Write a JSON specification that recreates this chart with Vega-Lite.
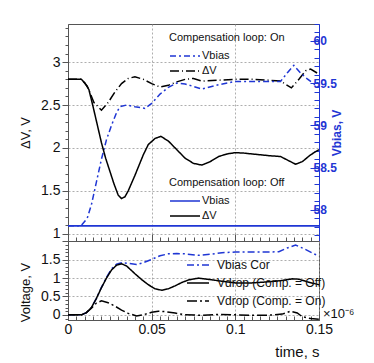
{
  "$schema": "https://vega.github.io/schema/vega-lite/v6.json",
  "autosize": {"type": "pad"},
  "padding": {"left": 19, "top": 17, "right": 0, "bottom": 0},
  "background": "white",
  "spacing": 0,
  "bounds": "flush",
  "config": {
    "font": "Liberation Sans",
    "view": {"stroke": "#555", "strokeWidth": 1},
    "axis": {
      "labelFont": "Liberation Sans", "titleFont": "Liberation Sans",
      "labelFontSize": 14, "titleFontSize": 13, "titleFontWeight": "normal",
      "labelColor": "#111", "titleColor": "#111",
      "domainColor": "#555", "tickColor": "#555",
      "gridColor": "#999", "gridDash": [2, 2], "gridWidth": 0.8,
      "labelFlush": false, "labelOverlap": false, "labelBound": false
    },
    "legend": {"labelFont": "Liberation Sans", "titleFont": "Liberation Sans", "labelColor": "#111", "titleColor": "#111"}
  },
  "datasets": {
    "top": [
      {"t": 0, "v": 2.80, "g": "Off", "n": "ΔV"}, {"t": 0.005, "v": 2.80, "g": "Off", "n": "ΔV"}, {"t": 0.008, "v": 2.80, "g": "Off", "n": "ΔV"},
      {"t": 0.010, "v": 2.76, "g": "Off", "n": "ΔV"}, {"t": 0.0125, "v": 2.68, "g": "Off", "n": "ΔV"}, {"t": 0.015, "v": 2.48, "g": "Off", "n": "ΔV"},
      {"t": 0.0175, "v": 2.27, "g": "Off", "n": "ΔV"}, {"t": 0.020, "v": 2.06, "g": "Off", "n": "ΔV"}, {"t": 0.0225, "v": 1.88, "g": "Off", "n": "ΔV"},
      {"t": 0.025, "v": 1.73, "g": "Off", "n": "ΔV"}, {"t": 0.0275, "v": 1.58, "g": "Off", "n": "ΔV"}, {"t": 0.030, "v": 1.45, "g": "Off", "n": "ΔV"},
      {"t": 0.032, "v": 1.41, "g": "Off", "n": "ΔV"}, {"t": 0.034, "v": 1.43, "g": "Off", "n": "ΔV"}, {"t": 0.036, "v": 1.50, "g": "Off", "n": "ΔV"},
      {"t": 0.040, "v": 1.68, "g": "Off", "n": "ΔV"}, {"t": 0.045, "v": 1.92, "g": "Off", "n": "ΔV"}, {"t": 0.048, "v": 2.04, "g": "Off", "n": "ΔV"},
      {"t": 0.052, "v": 2.11, "g": "Off", "n": "ΔV"}, {"t": 0.0555, "v": 2.135, "g": "Off", "n": "ΔV"}, {"t": 0.060, "v": 2.08, "g": "Off", "n": "ΔV"},
      {"t": 0.065, "v": 1.98, "g": "Off", "n": "ΔV"}, {"t": 0.070, "v": 1.88, "g": "Off", "n": "ΔV"}, {"t": 0.075, "v": 1.82, "g": "Off", "n": "ΔV"},
      {"t": 0.080, "v": 1.80, "g": "Off", "n": "ΔV"}, {"t": 0.085, "v": 1.84, "g": "Off", "n": "ΔV"}, {"t": 0.090, "v": 1.90, "g": "Off", "n": "ΔV"},
      {"t": 0.095, "v": 1.93, "g": "Off", "n": "ΔV"}, {"t": 0.100, "v": 1.945, "g": "Off", "n": "ΔV"}, {"t": 0.105, "v": 1.94, "g": "Off", "n": "ΔV"},
      {"t": 0.110, "v": 1.93, "g": "Off", "n": "ΔV"}, {"t": 0.115, "v": 1.92, "g": "Off", "n": "ΔV"}, {"t": 0.120, "v": 1.91, "g": "Off", "n": "ΔV"},
      {"t": 0.127, "v": 1.90, "g": "Off", "n": "ΔV"}, {"t": 0.131, "v": 1.86, "g": "Off", "n": "ΔV"}, {"t": 0.136, "v": 1.81, "g": "Off", "n": "ΔV"},
      {"t": 0.140, "v": 1.84, "g": "Off", "n": "ΔV"}, {"t": 0.145, "v": 1.92, "g": "Off", "n": "ΔV"}, {"t": 0.150, "v": 1.98, "g": "Off", "n": "ΔV"},

      {"t": 0, "v": 2.80, "g": "On", "n": "ΔV"}, {"t": 0.008, "v": 2.80, "g": "On", "n": "ΔV"}, {"t": 0.0115, "v": 2.72, "g": "On", "n": "ΔV"},
      {"t": 0.0155, "v": 2.53, "g": "On", "n": "ΔV"}, {"t": 0.020, "v": 2.44, "g": "On", "n": "ΔV"}, {"t": 0.024, "v": 2.53, "g": "On", "n": "ΔV"},
      {"t": 0.028, "v": 2.65, "g": "On", "n": "ΔV"}, {"t": 0.032, "v": 2.75, "g": "On", "n": "ΔV"}, {"t": 0.036, "v": 2.81, "g": "On", "n": "ΔV"},
      {"t": 0.040, "v": 2.83, "g": "On", "n": "ΔV"}, {"t": 0.045, "v": 2.80, "g": "On", "n": "ΔV"}, {"t": 0.050, "v": 2.75, "g": "On", "n": "ΔV"},
      {"t": 0.055, "v": 2.71, "g": "On", "n": "ΔV"}, {"t": 0.060, "v": 2.73, "g": "On", "n": "ΔV"}, {"t": 0.065, "v": 2.77, "g": "On", "n": "ΔV"},
      {"t": 0.070, "v": 2.80, "g": "On", "n": "ΔV"}, {"t": 0.075, "v": 2.81, "g": "On", "n": "ΔV"}, {"t": 0.080, "v": 2.78, "g": "On", "n": "ΔV"},
      {"t": 0.090, "v": 2.79, "g": "On", "n": "ΔV"}, {"t": 0.100, "v": 2.80, "g": "On", "n": "ΔV"}, {"t": 0.110, "v": 2.80, "g": "On", "n": "ΔV"},
      {"t": 0.120, "v": 2.79, "g": "On", "n": "ΔV"}, {"t": 0.127, "v": 2.78, "g": "On", "n": "ΔV"}, {"t": 0.1335, "v": 2.70, "g": "On", "n": "ΔV"},
      {"t": 0.138, "v": 2.80, "g": "On", "n": "ΔV"}, {"t": 0.142, "v": 2.90, "g": "On", "n": "ΔV"}, {"t": 0.145, "v": 2.92, "g": "On", "n": "ΔV"},
      {"t": 0.150, "v": 2.86, "g": "On", "n": "ΔV"},

      {"t": 0, "v": 57.81, "g": "On", "n": "Vbias"}, {"t": 0.0078, "v": 57.81, "g": "On", "n": "Vbias"}, {"t": 0.0115, "v": 57.90, "g": "On", "n": "Vbias"},
      {"t": 0.014, "v": 58.06, "g": "On", "n": "Vbias"}, {"t": 0.017, "v": 58.33, "g": "On", "n": "Vbias"}, {"t": 0.020, "v": 58.60, "g": "On", "n": "Vbias"},
      {"t": 0.023, "v": 58.83, "g": "On", "n": "Vbias"}, {"t": 0.026, "v": 59.00, "g": "On", "n": "Vbias"}, {"t": 0.029, "v": 59.15, "g": "On", "n": "Vbias"},
      {"t": 0.031, "v": 59.22, "g": "On", "n": "Vbias"}, {"t": 0.035, "v": 59.24, "g": "On", "n": "Vbias"}, {"t": 0.040, "v": 59.22, "g": "On", "n": "Vbias"},
      {"t": 0.046, "v": 59.20, "g": "On", "n": "Vbias"}, {"t": 0.050, "v": 59.26, "g": "On", "n": "Vbias"}, {"t": 0.055, "v": 59.37, "g": "On", "n": "Vbias"},
      {"t": 0.060, "v": 59.45, "g": "On", "n": "Vbias"}, {"t": 0.065, "v": 59.50, "g": "On", "n": "Vbias"}, {"t": 0.070, "v": 59.49, "g": "On", "n": "Vbias"},
      {"t": 0.075, "v": 59.46, "g": "On", "n": "Vbias"}, {"t": 0.080, "v": 59.43, "g": "On", "n": "Vbias"}, {"t": 0.090, "v": 59.48, "g": "On", "n": "Vbias"},
      {"t": 0.100, "v": 59.52, "g": "On", "n": "Vbias"}, {"t": 0.110, "v": 59.52, "g": "On", "n": "Vbias"}, {"t": 0.120, "v": 59.52, "g": "On", "n": "Vbias"},
      {"t": 0.127, "v": 59.52, "g": "On", "n": "Vbias"}, {"t": 0.131, "v": 59.62, "g": "On", "n": "Vbias"}, {"t": 0.135, "v": 59.71, "g": "On", "n": "Vbias"},
      {"t": 0.139, "v": 59.62, "g": "On", "n": "Vbias"}, {"t": 0.143, "v": 59.55, "g": "On", "n": "Vbias"}, {"t": 0.147, "v": 59.49, "g": "On", "n": "Vbias"},
      {"t": 0.150, "v": 59.45, "g": "On", "n": "Vbias"},

      {"t": 0, "v": 57.81, "g": "Off", "n": "Vbias"}, {"t": 0.15, "v": 57.81, "g": "Off", "n": "Vbias"}
    ],
    "bot": [
      {"t": 0, "v": 0, "n": "Vbias Cor"}, {"t": 0.008, "v": 0, "n": "Vbias Cor"}, {"t": 0.011, "v": 0.06, "n": "Vbias Cor"},
      {"t": 0.014, "v": 0.20, "n": "Vbias Cor"}, {"t": 0.017, "v": 0.45, "n": "Vbias Cor"}, {"t": 0.020, "v": 0.75, "n": "Vbias Cor"},
      {"t": 0.023, "v": 1.02, "n": "Vbias Cor"}, {"t": 0.026, "v": 1.25, "n": "Vbias Cor"}, {"t": 0.029, "v": 1.38, "n": "Vbias Cor"},
      {"t": 0.032, "v": 1.42, "n": "Vbias Cor"}, {"t": 0.036, "v": 1.40, "n": "Vbias Cor"}, {"t": 0.041, "v": 1.37, "n": "Vbias Cor"},
      {"t": 0.045, "v": 1.42, "n": "Vbias Cor"}, {"t": 0.050, "v": 1.51, "n": "Vbias Cor"}, {"t": 0.055, "v": 1.61, "n": "Vbias Cor"},
      {"t": 0.060, "v": 1.66, "n": "Vbias Cor"}, {"t": 0.065, "v": 1.67, "n": "Vbias Cor"}, {"t": 0.070, "v": 1.66, "n": "Vbias Cor"},
      {"t": 0.078, "v": 1.62, "n": "Vbias Cor"}, {"t": 0.085, "v": 1.65, "n": "Vbias Cor"}, {"t": 0.092, "v": 1.69, "n": "Vbias Cor"},
      {"t": 0.100, "v": 1.71, "n": "Vbias Cor"}, {"t": 0.110, "v": 1.71, "n": "Vbias Cor"}, {"t": 0.120, "v": 1.71, "n": "Vbias Cor"},
      {"t": 0.126, "v": 1.72, "n": "Vbias Cor"}, {"t": 0.131, "v": 1.82, "n": "Vbias Cor"}, {"t": 0.136, "v": 1.90, "n": "Vbias Cor"},
      {"t": 0.141, "v": 1.80, "n": "Vbias Cor"}, {"t": 0.147, "v": 1.66, "n": "Vbias Cor"}, {"t": 0.150, "v": 1.60, "n": "Vbias Cor"},

      {"t": 0, "v": 0, "n": "Vdrop (Comp. = Off)"}, {"t": 0.008, "v": 0, "n": "Vdrop (Comp. = Off)"}, {"t": 0.011, "v": 0.06, "n": "Vdrop (Comp. = Off)"},
      {"t": 0.014, "v": 0.20, "n": "Vdrop (Comp. = Off)"}, {"t": 0.017, "v": 0.45, "n": "Vdrop (Comp. = Off)"}, {"t": 0.020, "v": 0.74, "n": "Vdrop (Comp. = Off)"},
      {"t": 0.023, "v": 1.00, "n": "Vdrop (Comp. = Off)"}, {"t": 0.026, "v": 1.22, "n": "Vdrop (Comp. = Off)"}, {"t": 0.029, "v": 1.35, "n": "Vdrop (Comp. = Off)"},
      {"t": 0.032, "v": 1.39, "n": "Vdrop (Comp. = Off)"}, {"t": 0.035, "v": 1.33, "n": "Vdrop (Comp. = Off)"}, {"t": 0.040, "v": 1.12, "n": "Vdrop (Comp. = Off)"},
      {"t": 0.044, "v": 0.96, "n": "Vdrop (Comp. = Off)"}, {"t": 0.048, "v": 0.82, "n": "Vdrop (Comp. = Off)"}, {"t": 0.052, "v": 0.71, "n": "Vdrop (Comp. = Off)"},
      {"t": 0.056, "v": 0.67, "n": "Vdrop (Comp. = Off)"}, {"t": 0.060, "v": 0.71, "n": "Vdrop (Comp. = Off)"}, {"t": 0.064, "v": 0.79, "n": "Vdrop (Comp. = Off)"},
      {"t": 0.068, "v": 0.88, "n": "Vdrop (Comp. = Off)"}, {"t": 0.072, "v": 0.95, "n": "Vdrop (Comp. = Off)"}, {"t": 0.078, "v": 1.00, "n": "Vdrop (Comp. = Off)"},
      {"t": 0.085, "v": 0.96, "n": "Vdrop (Comp. = Off)"}, {"t": 0.091, "v": 0.92, "n": "Vdrop (Comp. = Off)"}, {"t": 0.100, "v": 0.87, "n": "Vdrop (Comp. = Off)"},
      {"t": 0.110, "v": 0.87, "n": "Vdrop (Comp. = Off)"}, {"t": 0.120, "v": 0.90, "n": "Vdrop (Comp. = Off)"}, {"t": 0.127, "v": 0.93, "n": "Vdrop (Comp. = Off)"},
      {"t": 0.134, "v": 0.98, "n": "Vdrop (Comp. = Off)"}, {"t": 0.138, "v": 0.97, "n": "Vdrop (Comp. = Off)"}, {"t": 0.143, "v": 0.90, "n": "Vdrop (Comp. = Off)"},
      {"t": 0.150, "v": 0.82, "n": "Vdrop (Comp. = Off)"},

      {"t": 0, "v": 0, "n": "Vdrop (Comp. = On)"}, {"t": 0.008, "v": 0, "n": "Vdrop (Comp. = On)"}, {"t": 0.011, "v": 0.06, "n": "Vdrop (Comp. = On)"},
      {"t": 0.014, "v": 0.18, "n": "Vdrop (Comp. = On)"}, {"t": 0.017, "v": 0.32, "n": "Vdrop (Comp. = On)"}, {"t": 0.020, "v": 0.38, "n": "Vdrop (Comp. = On)"},
      {"t": 0.024, "v": 0.33, "n": "Vdrop (Comp. = On)"}, {"t": 0.028, "v": 0.24, "n": "Vdrop (Comp. = On)"}, {"t": 0.032, "v": 0.13, "n": "Vdrop (Comp. = On)"},
      {"t": 0.036, "v": 0.04, "n": "Vdrop (Comp. = On)"}, {"t": 0.041, "v": -0.03, "n": "Vdrop (Comp. = On)"}, {"t": 0.045, "v": 0.00, "n": "Vdrop (Comp. = On)"},
      {"t": 0.050, "v": 0.07, "n": "Vdrop (Comp. = On)"}, {"t": 0.054, "v": 0.10, "n": "Vdrop (Comp. = On)"}, {"t": 0.058, "v": 0.09, "n": "Vdrop (Comp. = On)"},
      {"t": 0.064, "v": 0.05, "n": "Vdrop (Comp. = On)"}, {"t": 0.070, "v": 0.00, "n": "Vdrop (Comp. = On)"}, {"t": 0.080, "v": -0.01, "n": "Vdrop (Comp. = On)"},
      {"t": 0.090, "v": 0.01, "n": "Vdrop (Comp. = On)"}, {"t": 0.100, "v": 0.00, "n": "Vdrop (Comp. = On)"}, {"t": 0.110, "v": -0.01, "n": "Vdrop (Comp. = On)"},
      {"t": 0.120, "v": -0.01, "n": "Vdrop (Comp. = On)"}, {"t": 0.128, "v": 0.02, "n": "Vdrop (Comp. = On)"}, {"t": 0.133, "v": 0.10, "n": "Vdrop (Comp. = On)"},
      {"t": 0.137, "v": 0.05, "n": "Vdrop (Comp. = On)"}, {"t": 0.140, "v": -0.05, "n": "Vdrop (Comp. = On)"}, {"t": 0.145, "v": -0.10, "n": "Vdrop (Comp. = On)"},
      {"t": 0.150, "v": -0.12, "n": "Vdrop (Comp. = On)"}
    ]
  },
  "vconcat": [
    {
      "width": 251, "height": 217,
      "data": {"name": "top"},
      "layer": [
        {
          "layer": [
            {
              "transform": [{"filter": "datum.g == 'On' && datum.n == 'ΔV'"}],
              "mark": {"type": "line", "strokeWidth": 1.5, "clip": true},
              "encoding": {
                "x": {
                  "field": "t", "type": "quantitative",
                  "scale": {"domain": [0, 0.15], "nice": false, "zero": false},
                  "axis": {
                    "orient": "bottom", "title": null, "labels": false,
                    "values": [0,0.005,0.01,0.015,0.02,0.025,0.03,0.035,0.04,0.045,0.05,0.055,0.06,0.065,0.07,0.075,0.08,0.085,0.09,0.095,0.1,0.105,0.11,0.115,0.12,0.125,0.13,0.135,0.14,0.145,0.15],
                    "tickSize": {"condition": {"test": "abs(datum.value*20-round(datum.value*20))<1e-6", "value": -7}, "value": -4},
                    "gridOpacity": {"condition": {"test": "abs(datum.value*20-round(datum.value*20))<1e-6", "value": 1}, "value": 0}
                  }
                },
                "y": {
                  "field": "v", "type": "quantitative",
                  "scale": {"domain": [0.915, 3.445], "nice": false, "zero": false},
                  "axis": {
                    "orient": "left", "title": "ΔV, V", "titlePadding": 8, "labelPadding": 2,
                    "values": [1,1.1,1.2,1.3,1.4,1.5,1.6,1.7,1.8,1.9,2,2.1,2.2,2.3,2.4,2.5,2.6,2.7,2.8,2.9,3,3.1,3.2,3.3,3.4],
                    "labelExpr": "abs(datum.value*2-round(datum.value*2))<1e-6 ? format(datum.value, '~g') : ''",
                    "tickSize": {"condition": {"test": "abs(datum.value*2-round(datum.value*2))<1e-6", "value": 6}, "value": 3},
                    "gridOpacity": {"condition": {"test": "abs(datum.value*2-round(datum.value*2))<1e-6", "value": 1}, "value": 0}
                  }
                },
                "color": {"field": "n", "type": "nominal", "scale": {"domain": ["Vbias", "ΔV"], "range": ["#1f36d4", "#000000"]},
                  "legend": {"title": "Compensation loop: On", "orient": "none", "legendX": 101, "legendY": 8, "direction": "vertical",
                    "symbolType": "M-1,0H5", "symbolSize": 100, "symbolStrokeWidth": 1.5, "labelOffset": 21,
                    "labelFontSize": 11, "titleFontSize": 11, "titleFontWeight": "normal", "titlePadding": 7, "rowPadding": 4}},
                "strokeDash": {"field": "n", "type": "nominal", "scale": {"domain": ["Vbias", "ΔV"], "range": [[6, 3, 2, 3], [9, 3, 1, 3]]},
                  "legend": {"title": "Compensation loop: On", "orient": "none", "legendX": 101, "legendY": 8, "direction": "vertical",
                    "symbolType": "M-1,0H5", "symbolSize": 100, "symbolStrokeWidth": 1.5, "labelOffset": 21,
                    "labelFontSize": 11, "titleFontSize": 11, "titleFontWeight": "normal", "titlePadding": 7, "rowPadding": 4}}
              }
            },
            {
              "transform": [{"filter": "datum.g == 'On' && datum.n == 'Vbias'"}],
              "mark": {"type": "line", "strokeWidth": 1.5, "clip": true},
              "encoding": {
                "x": {"field": "t", "type": "quantitative", "scale": {"domain": [0, 0.15], "nice": false, "zero": false}, "axis": null},
                "y": {
                  "field": "v", "type": "quantitative",
                  "scale": {"domain": [57.63, 60.2], "nice": false, "zero": false},
                  "axis": {
                    "orient": "right", "title": "Vbias, V", "titleAngle": 270, "titlePadding": 7, "labelPadding": 3,
                    "values": [57.7,57.8,57.9,58,58.1,58.2,58.3,58.4,58.5,58.6,58.7,58.8,58.9,59,59.1,59.2,59.3,59.4,59.5,59.6,59.7,59.8,59.9,60,60.1,60.2],
                    "labelExpr": "abs(datum.value*2-round(datum.value*2))<1e-6 ? format(datum.value, '~g') : ''",
                    "tickSize": {"condition": {"test": "abs(datum.value*2-round(datum.value*2))<1e-6", "value": -9}, "value": -5},
                    "grid": false,
                    "domainColor": "#1f36d4", "tickColor": "#1f36d4", "labelColor": "#1f36d4", "titleColor": "#1f36d4",
                    "labelFontWeight": "bold", "labelFontSize": 12, "titleFontWeight": "bold", "titleFontSize": 12
                  }
                },
                "color": {"field": "n", "type": "nominal"},
                "strokeDash": {"field": "n", "type": "nominal"}
              }
            }
          ],
          "resolve": {"scale": {"y": "independent"}, "axis": {"x": "independent", "y": "independent"}}
        },
        {
          "layer": [
            {
              "transform": [{"filter": "datum.g == 'Off' && datum.n == 'ΔV'"}],
              "mark": {"type": "line", "strokeWidth": 1.5, "clip": true},
              "encoding": {
                "x": {"field": "t", "type": "quantitative", "scale": {"domain": [0, 0.15], "nice": false, "zero": false}, "axis": null},
                "y": {"field": "v", "type": "quantitative", "scale": {"domain": [0.915, 3.445], "nice": false, "zero": false}, "axis": null},
                "color": {"field": "n", "type": "nominal", "scale": {"domain": ["Vbias", "ΔV"], "range": ["#1f36d4", "#000000"]},
                  "legend": {"title": "Compensation loop: Off", "orient": "none", "legendX": 101, "legendY": 153, "direction": "vertical",
                    "symbolType": "M-1,0H5", "symbolSize": 100, "symbolStrokeWidth": 1.5, "labelOffset": 21,
                    "labelFontSize": 11, "titleFontSize": 11, "titleFontWeight": "normal", "titlePadding": 7, "rowPadding": 4}},
                "strokeDash": {"field": "n", "type": "nominal", "scale": {"domain": ["Vbias", "ΔV"], "range": [[1, 0], [1, 0]]},
                  "legend": {"title": "Compensation loop: Off", "orient": "none", "legendX": 101, "legendY": 153, "direction": "vertical",
                    "symbolType": "M-1,0H5", "symbolSize": 100, "symbolStrokeWidth": 1.5, "labelOffset": 21,
                    "labelFontSize": 11, "titleFontSize": 11, "titleFontWeight": "normal", "titlePadding": 7, "rowPadding": 4}}
              }
            },
            {
              "transform": [{"filter": "datum.g == 'Off' && datum.n == 'Vbias'"}],
              "mark": {"type": "line", "strokeWidth": 1.8, "clip": true},
              "encoding": {
                "x": {"field": "t", "type": "quantitative", "scale": {"domain": [0, 0.15], "nice": false, "zero": false}, "axis": null},
                "y": {"field": "v", "type": "quantitative", "scale": {"domain": [57.63, 60.2], "nice": false, "zero": false}, "axis": null},
                "color": {"field": "n", "type": "nominal"},
                "strokeDash": {"field": "n", "type": "nominal"}
              }
            }
          ],
          "resolve": {"scale": {"y": "independent"}, "axis": {"x": "independent", "y": "independent"}}
        }
      ],
      "resolve": {"scale": {"y": "independent", "color": "independent", "strokeDash": "independent"}, "axis": {"x": "independent", "y": "independent"}}
    },
    {
      "width": 251, "height": 79,
      "data": {"name": "bot"},
      "layer": [
        {
          "mark": {"type": "line", "strokeWidth": 1.5, "clip": true},
          "encoding": {
            "x": {
              "field": "t", "type": "quantitative",
              "scale": {"domain": [0, 0.15], "nice": false, "zero": false},
              "axis": {
                "orient": "bottom", "title": "time, s", "titleAnchor": "end", "titleAlign": "right", "titleFontSize": 15, "titlePadding": 5,
                "labelPadding": 9,
                "values": [0,0.005,0.01,0.015,0.02,0.025,0.03,0.035,0.04,0.045,0.05,0.055,0.06,0.065,0.07,0.075,0.08,0.085,0.09,0.095,0.1,0.105,0.11,0.115,0.12,0.125,0.13,0.135,0.14,0.145,0.15],
                "labelExpr": "abs(datum.value*20-round(datum.value*20))<1e-6 ? format(datum.value, '~g') : ''",
                "tickSize": {"condition": {"test": "abs(datum.value*20-round(datum.value*20))<1e-6", "value": -7}, "value": -4},
                "gridOpacity": {"condition": {"test": "abs(datum.value*20-round(datum.value*20))<1e-6", "value": 1}, "value": 0}
              }
            },
            "y": {
              "field": "v", "type": "quantitative",
              "scale": {"domain": [-0.14, 2.01], "nice": false, "zero": false},
              "axis": {
                "orient": "left", "title": "Voltage, V", "titlePadding": 8, "labelPadding": 2, "titleY": 51,
                "values": [-0.1,0,0.1,0.2,0.3,0.4,0.5,0.6,0.7,0.8,0.9,1,1.1,1.2,1.3,1.4,1.5,1.6,1.7,1.8,1.9,2],
                "labelExpr": "abs(datum.value*2-round(datum.value*2))<1e-6 && datum.value >= 0 && datum.value < 1.9 ? format(datum.value, '~g') : ''",
                "tickSize": {"condition": {"test": "abs(datum.value*2-round(datum.value*2))<1e-6", "value": 6}, "value": 3},
                "gridOpacity": {"condition": {"test": "abs(datum.value*2-round(datum.value*2))<1e-6 && datum.value >= 0 && datum.value < 1.9", "value": 1}, "value": 0}
              }
            },
            "color": {"field": "n", "type": "nominal",
              "scale": {"domain": ["Vbias Cor", "Vdrop (Comp. = Off)", "Vdrop (Comp. = On)"], "range": ["#1f36d4", "#000000", "#000000"]},
              "legend": {"title": null, "orient": "none", "legendX": 118, "legendY": 235, "direction": "vertical",
                "symbolType": "M-1,0H3.4", "symbolSize": 100, "symbolStrokeWidth": 1.5, "labelOffset": 19,
                "labelFontSize": 12, "rowPadding": 6}},
            "strokeDash": {"field": "n", "type": "nominal",
              "scale": {"domain": ["Vbias Cor", "Vdrop (Comp. = Off)", "Vdrop (Comp. = On)"], "range": [[7, 3, 2, 3], [1, 0], [10, 3, 2, 3]]},
              "legend": {"title": null, "orient": "none", "legendX": 118, "legendY": 235, "direction": "vertical",
                "symbolType": "M-1,0H3.4", "symbolSize": 100, "symbolStrokeWidth": 1.5, "labelOffset": 19,
                "labelFontSize": 12, "rowPadding": 6}}
          }
        },
        {
          "data": {"values": [{"label": "×10⁻⁶"}]},
          "mark": {"type": "text", "align": "left", "baseline": "middle", "dx": 4, "dy": -1, "fontSize": 13, "font": "Liberation Sans", "color": "#111", "clip": false},
          "encoding": {
            "x": {"datum": 0.15, "axis": null},
            "y": {"datum": 0, "axis": null},
            "text": {"field": "label"}
          }
        }
      ],
      "resolve": {"axis": {"x": "independent", "y": "independent"}}
    }
  ]
}
